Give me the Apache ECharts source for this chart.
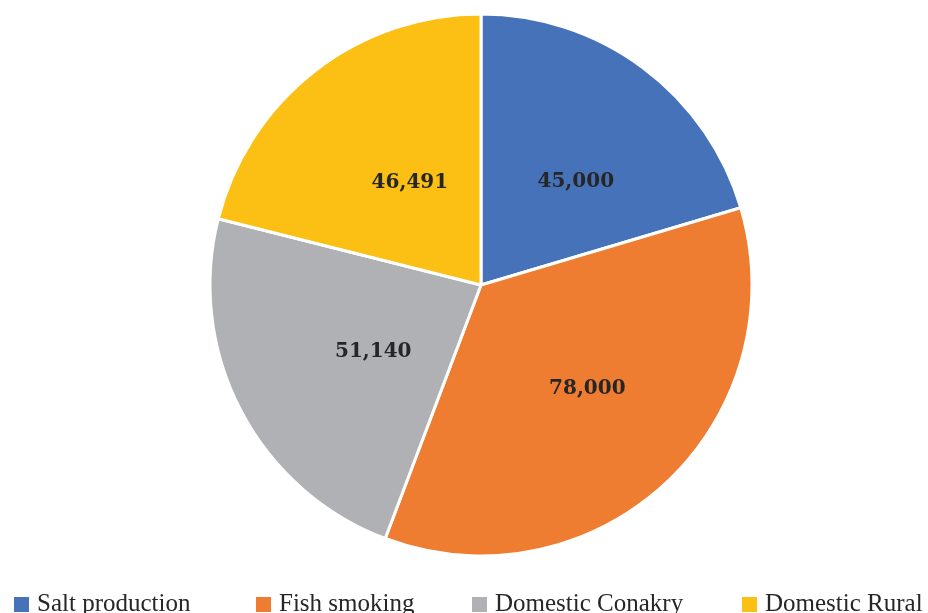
<!DOCTYPE html>
<html><head><meta charset="utf-8">
<script src="https://cdn.jsdelivr.net/npm/echarts@6/dist/echarts.min.js"></script>
<style>html,body{margin:0;padding:0;background:#fff}#c{width:928px;height:613px}</style>
</head><body><div id="c"></div>
<script>
const categories = ['Salt production', 'Fish smoking', 'Domestic Conakry', 'Domestic Rural'];
const values = [45000, 78000, 51140, 46491];
const colors = ['#4672B9', '#EE7D31', '#B0B1B4', '#FBC013'];
const legendLeft = [12, 254, 470, 740];
const labelOffsets = [[12, 8], [12, 2], [15, 3], [14, 7]];
const chart = echarts.init(document.getElementById('c'));
chart.setOption({
  animation: false,
  color: colors,
  legend: categories.map((c, i) => ({
    data: [c],
    left: legendLeft[i], top: 592,
    icon: 'rect', itemWidth: 17, itemHeight: 17, padding: 0,
    textStyle: { fontFamily: 'Liberation Serif', fontSize: 25, color: '#262626', padding: [0, 0, 0, 2] }
  })),
  series: [{
    type: 'pie',
    center: [481, 285], radius: 271,
    startAngle: 90, clockwise: true,
    itemStyle: { borderColor: '#fff', borderWidth: 3 },
    label: {
      position: 'inside',
      fontFamily: 'DejaVu Serif', fontWeight: 'bold', fontSize: 20, color: '#262626',
      formatter: p => p.value.toLocaleString('en-US')
    },
    labelLine: { show: false },
    data: categories.map((c, i) => ({ name: c, value: values[i], label: { offset: labelOffsets[i] } }))
  }]
});
</script></body></html>
